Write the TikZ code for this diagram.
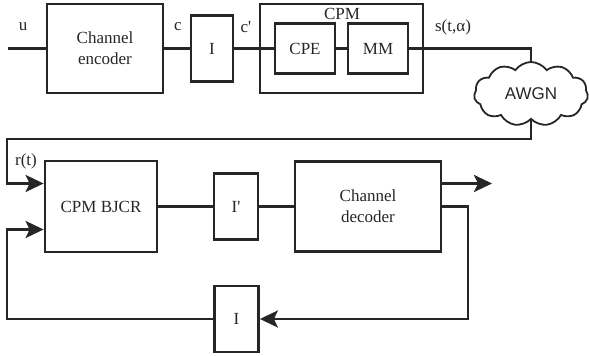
\documentclass[tikz,border=0pt]{standalone}
\usepackage{fontspec}
\setmainfont{Liberation Serif}
\newfontfamily\awgnfont{Liberation Sans}
\usetikzlibrary{arrows.meta,shapes.symbols}

\begin{document}
\begin{tikzpicture}[x=1pt, y=-1pt, line width=2.8pt, line join=miter, color=black!85,
  font=\fontsize{17}{21}\selectfont,
  blk/.style={draw, inner sep=0pt, align=center},
  tip/.style={-{Stealth[length=18pt, width=17pt, inset=4pt]}}]
  % fixed frame of the picture
  \useasboundingbox (0,0) rectangle (589,356);

  % Transmitter
  \coordinate (src) at (8,48.5);
  \node[blk, minimum width=116pt, minimum height=89pt] (enc) at (105,48.5) {Channel\\encoder};
  \node[blk, minimum width=42pt, minimum height=66pt] (il) at (212,48.5) {I};
  \node[blk, minimum width=163pt, minimum height=89pt] (cpm) at (341.5,48.5) {};
  \node at (342,14) {CPM};
  \node[blk, minimum width=60pt, minimum height=50pt] (cpe) at (305,48.5) {CPE};
  \node[blk, minimum width=60pt, minimum height=50pt] (mm) at (378,48.5) {MM};
  \node at (23,27) {u};
  \node at (178,27) {c};
  \node at (246,27) {c\textquotesingle};
  \node at (453,27) {s(t,α)};

  \draw (src) -- (enc.west);
  \draw (enc.east) -- (il.west);
  \draw (il.east) -- (cpe.west);
  \draw (cpe.east) -- (mm.west);

  % Receiver
  \node[blk, minimum width=112pt, minimum height=91pt] (bjcr) at (101,206.5) {CPM BJCR};
  \node[blk, minimum width=44pt, minimum height=66pt] (ip) at (236,206.5) {I\textquotesingle};
  \node[blk, minimum width=146pt, minimum height=90pt] (dec) at (368,206.5) {Channel\\decoder};
  \node[blk, minimum width=44pt, minimum height=66pt] (ib) at (236.5,319) {I};
  \coordinate (out) at (492,183.5);
  \coordinate (fb) at (468,206.5);
  \coordinate (lb) at (7,319);

  % Channel
  \node[cloud, draw, line width=1.8pt, cloud puffs=11, cloud puff arc=110, aspect=2,
    minimum width=114pt, minimum height=64pt, inner sep=0pt] (awgn) at (531,94) {\awgnfont AWGN};
  \draw (mm.east) -| (awgn.north);
  \coordinate (rt) at (7,139);
  \draw[tip] (awgn.south) |- (rt) |- ([yshift=23pt]bjcr.west);
  \node at (26,161) {r(t)};

  \draw (bjcr.east) -- (ip.west);
  \draw (ip.east) -- (dec.west);
  \draw[tip] ([yshift=23pt]dec.east) -- (out);
  \draw[tip] (dec.east) -- (fb) |- (ib.east);
  \draw[tip] (ib.west) -- (lb) |- ([yshift=-23pt]bjcr.west);
\end{tikzpicture}
\end{document}
